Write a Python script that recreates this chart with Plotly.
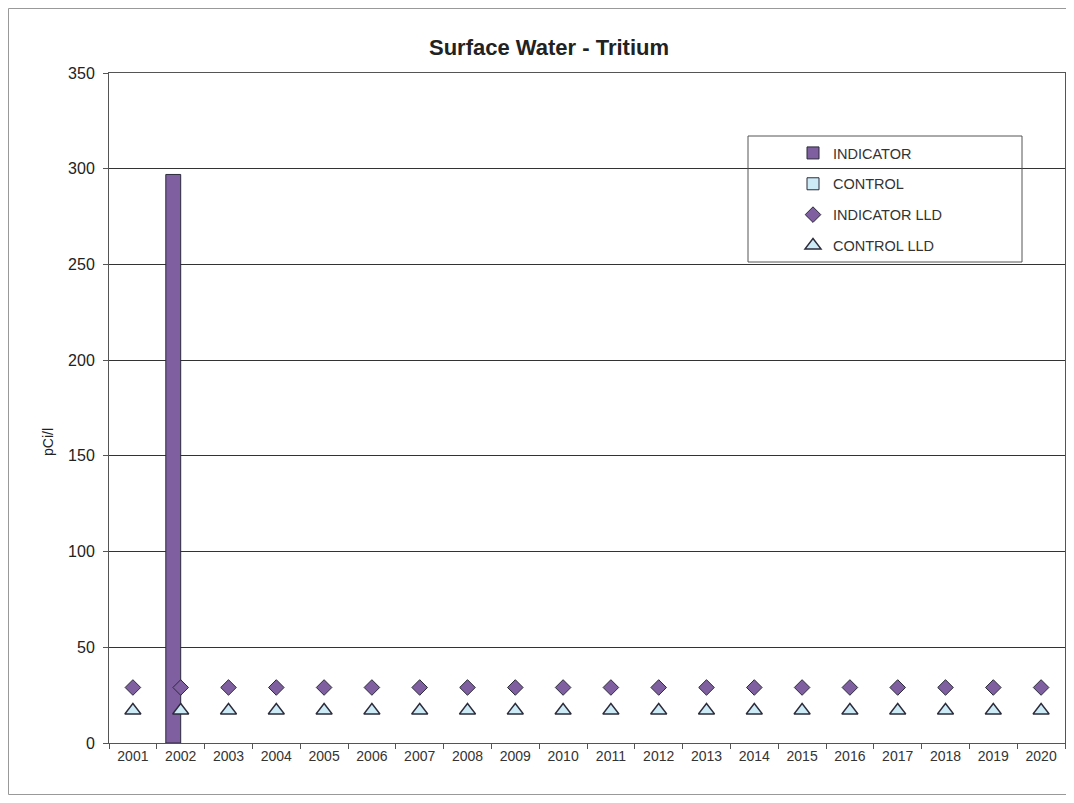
import plotly.graph_objects as go

years = [str(y) for y in range(2001, 2021)]
indicator = [None, 297] + [None] * 18
control = [None] * 20
indicator_lld = [29, 29, 29, 29, 29, 29, 29, 29, 29, 29, 29, 29, 29, 29, 29, 29, 29, 29, 29, 29]
control_lld = [17, 17, 17, 17, 17, 17, 17, 17, 17, 17, 17, 17, 17, 17, 17, 17, 17, 17, 17, 17]
y_ticks = [0, 50, 100, 150, 200, 250, 300, 350]

W, H = 1062, 787
L, R, T, B = 101, 1057, 65, 735

def px_x(p):
    return (p - L) / (R - L)

def px_y(p):
    return (B - p) / (B - T)

fig = go.Figure()
fig.add_trace(go.Bar(x=years, y=indicator, name="INDICATOR", legendgroup="a",
                     marker=dict(color="#7F5F9F", line=dict(color="#2B2B3B", width=1))))
fig.add_trace(go.Bar(x=years, y=control, name="CONTROL", legendgroup="b",
                     marker=dict(color="#CDEBF7", line=dict(color="#2B2B3B", width=1))))
fig.add_trace(go.Scatter(x=years, y=indicator_lld, name="INDICATOR LLD", mode="markers", legendgroup="c",
                         marker=dict(symbol="diamond", size=12, color="#7F5F9F",
                                     line=dict(color="#2B2B3B", width=1))))
fig.add_trace(go.Scatter(x=years, y=control_lld, name="CONTROL LLD", mode="markers", legendgroup="d",
                         marker=dict(symbol="triangle-up", size=14, color="#CDEBF7",
                                     line=dict(color="#2B2B3B", width=1.4))))

fig.update_layout(
    width=W, height=H,
    margin=dict(l=L, r=W - R, t=T, b=H - B, autoexpand=False),
    paper_bgcolor="white", plot_bgcolor="white",
    font=dict(family="Liberation Sans, Arial, sans-serif", size=13, color="#222222"),
    title=dict(text="<b>Surface Water - Tritium</b>", x=541 / W, xanchor="center",
               y=1 - 39 / H, yanchor="middle", font=dict(size=22, color="#222222")),
    barmode="group", bargap=0.377, bargroupgap=0,
    showlegend=True,
    legend=dict(x=px_x(785), xanchor="left", y=px_y(129), yanchor="top",
                bgcolor="rgba(0,0,0,0)", borderwidth=0, tracegroupgap=9,
                font=dict(size=14.5, color="#333333"), itemwidth=30),
    xaxis=dict(type="category", range=[-0.5, 19.5], tickson="boundaries", ticks="outside", ticklen=5,
               tickcolor="#555555", showline=True, linecolor="#555555", linewidth=1,
               mirror=True, showgrid=False, tickfont=dict(size=14, color="#333333")),
    yaxis=dict(range=[0, 350], tickvals=y_ticks, ticks="outside", ticklen=5,
               tickcolor="#555555", showline=True, linecolor="#555555", linewidth=1,
               mirror=True, showgrid=True, gridcolor="#333333", gridwidth=1,
               zeroline=False, tickfont=dict(size=16, color="#222222"), ticklabelstandoff=5),
    annotations=[
        dict(text="pCi/l", xref="paper", yref="paper", x=px_x(40), y=px_y(434),
             xanchor="center", yanchor="middle", textangle=-90, showarrow=False,
             font=dict(size=14, color="#222222")),
    ],
    shapes=[
        dict(type="rect", xref="paper", yref="paper", x0=px_x(740), x1=px_x(1014),
             y0=px_y(254), y1=px_y(128), line=dict(color="#555555", width=1),
             fillcolor="rgba(0,0,0,0)"),
        dict(type="rect", xref="paper", yref="paper", x0=px_x(0.5), x1=px_x(1061.5),
             y0=px_y(786.5), y1=px_y(0.5), line=dict(color="#999999", width=1),
             fillcolor="rgba(0,0,0,0)", layer="below"),
    ],
)

fig.write_html("out.html")
